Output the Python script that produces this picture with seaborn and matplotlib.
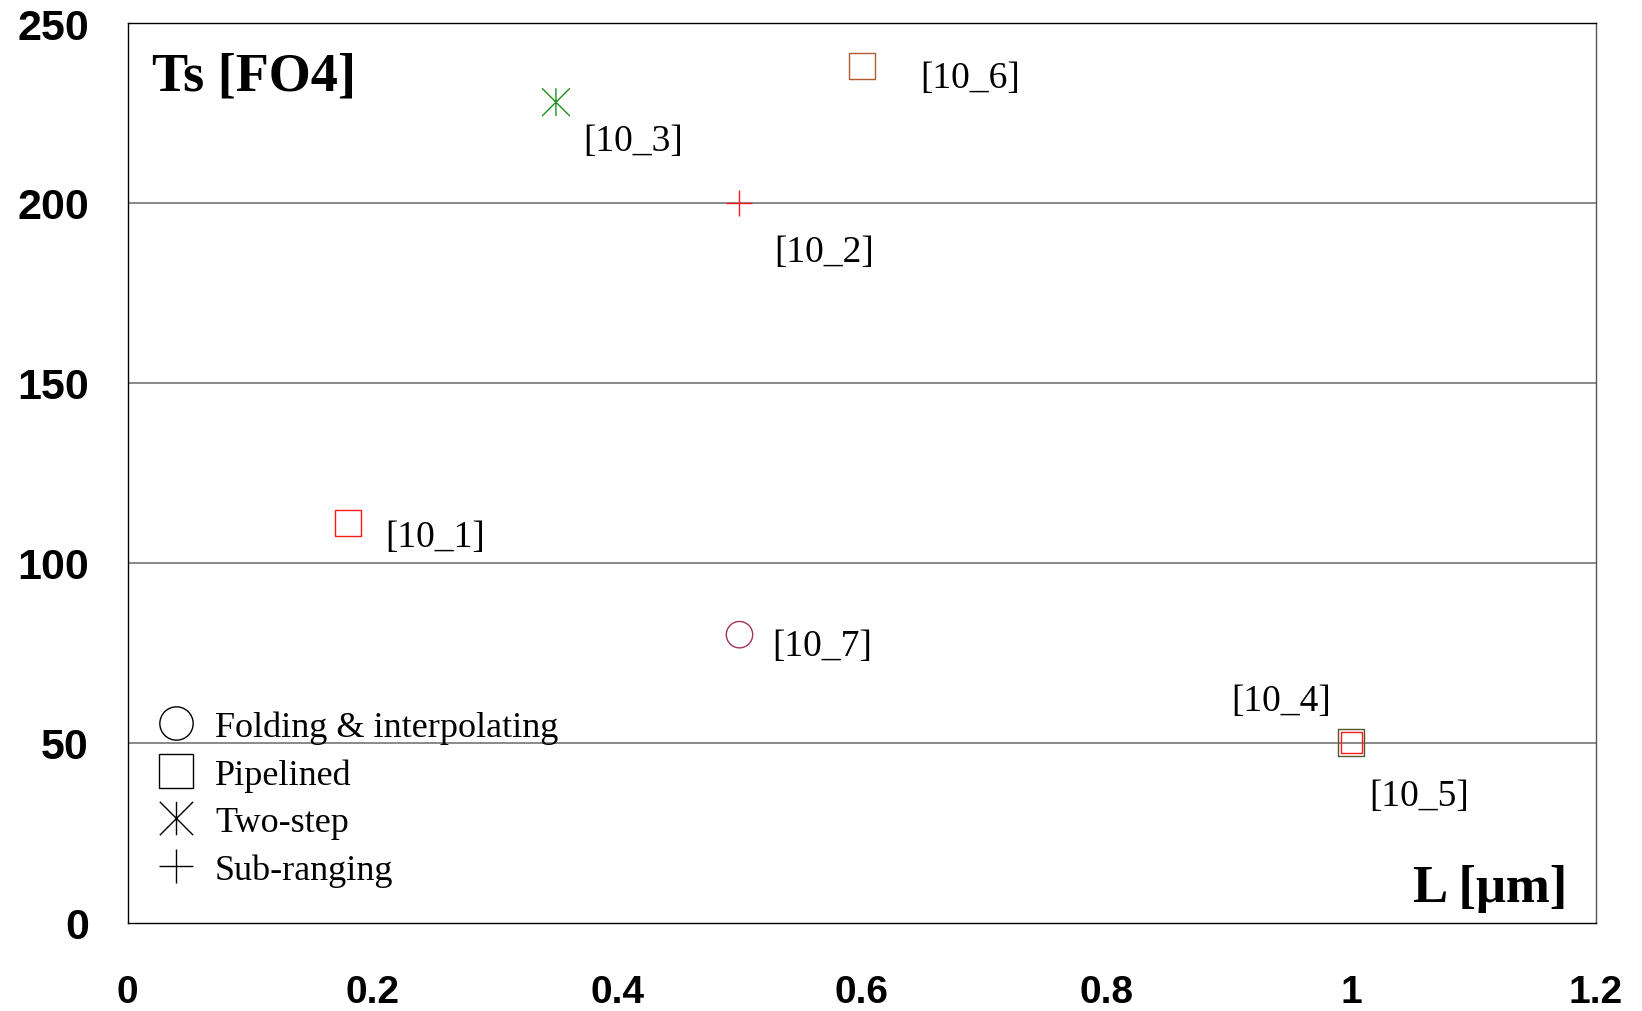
import matplotlib
matplotlib.use("Agg")
import matplotlib.pyplot as plt
from matplotlib.lines import Line2D
from matplotlib.path import Path
import seaborn as sns

# ---- data -------------------------------------------------------------
refs = ["[10_1]", "[10_2]", "[10_3]", "[10_4]", "[10_5]", "[10_6]", "[10_7]"]
length_um = [0.18, 0.5, 0.35, 1.0, 1.0, 0.6, 0.5]
ts_fo4 = [111, 200, 228, 50, 50, 238, 80]
architecture = ["Pipelined", "Sub-ranging", "Two-step", "Pipelined",
                "Pipelined", "Pipelined", "Folding & interpolating"]
point_colors = ["#ff1a1a", "#ff1a1a", "#1f8f1f", "#55552e",
                "#ff1a1a", "#b05a30", "#a3305e"]
point_sizes = [19, 19, 20, 19, 15, 19, 19]            # marker size, pt
label_offsets = [(37, -23), (35, -58), (27, -48), (-120, 33),
                 (18, -62), (58, -21), (33, -20)]     # pixels

x_ticks = [0, 0.2, 0.4, 0.6, 0.8, 1.0, 1.2]
x_tick_labels = ["0", "0.2", "0.4", "0.6", "0.8", "1", "1.2"]
y_ticks = [0, 50, 100, 150, 200, 250]
legend_order = ["Folding & interpolating", "Pipelined", "Two-step", "Sub-ranging"]

# ---- markers ----------------------------------------------------------
asterisk = Path([(-1, -1), (1, 1), (-1, 1), (1, -1), (0, -1), (0, 1)],
                [Path.MOVETO, Path.LINETO] * 3)
marker_map = {"Folding & interpolating": "o", "Pipelined": "s",
              "Two-step": asterisk, "Sub-ranging": "+"}

sns.set_style("white")
plt.rcParams["text.color"] = "black"
plt.rcParams["xtick.color"] = "black"
plt.rcParams["ytick.color"] = "black"
serif = ["Liberation Serif", "DejaVu Serif"]
sans = ["Liberation Sans", "DejaVu Sans"]

fig = plt.figure(figsize=(16.42, 10.12), dpi=100)
ax = fig.add_axes([0.07777, 0.08745, 0.89421, 0.88883])

for L, ts, arch, c, ms in zip(length_um, ts_fo4, architecture,
                              point_colors, point_sizes):
    m = marker_map[arch]
    if m == "+":
        sns.scatterplot(x=[L], y=[ts], marker=m, s=ms ** 2, color=c,
                        linewidth=1.0, ax=ax, zorder=3)
    else:
        sns.scatterplot(x=[L], y=[ts], marker=m, s=ms ** 2, color=c,
                        facecolor="none", edgecolor=c, linewidth=1.0,
                        ax=ax, zorder=3)

for L, ts, ref, (dx, dy) in zip(length_um, ts_fo4, refs, label_offsets):
    ax.annotate(ref, xy=(L, ts), xytext=(dx, dy), textcoords="offset pixels",
                ha="left", va="baseline", fontsize=27, family=serif,
                color="black")

ax.set_xlim(0, 1.2)
ax.set_ylim(0, 250)
ax.set_xticks(x_ticks)
ax.set_xticklabels(x_tick_labels)
ax.set_yticks(y_ticks)
ax.set_xlabel("")
ax.set_ylabel("")

for lab in ax.get_xticklabels():
    lab.set_family(sans)
    lab.set_fontweight("bold")
    lab.set_fontsize(28)
for lab in ax.get_yticklabels():
    lab.set_family(sans)
    lab.set_fontweight("bold")
    lab.set_fontsize(31)

ax.tick_params(axis="both", direction="out", length=10, width=1,
               color="#444444", labelcolor="black")
ax.tick_params(axis="x", pad=27)
ax.tick_params(axis="y", pad=18)

for v in y_ticks[1:-1]:
    ax.axhline(v, color="#808080", linewidth=1.3, zorder=1)

for side, sp in ax.spines.items():
    sp.set_visible(True)
    sp.set_linewidth(1.0)
    sp.set_color("black" if side in ("left", "bottom", "top") else "#555555")

ax.text(0.0166, 0.9266, "Ts [FO4]", transform=ax.transAxes, ha="left",
        va="baseline", fontsize=39, fontweight="bold", family=serif,
        color="black")
ax.text(0.9803, 0.0239, "L [\u03bcm]", transform=ax.transAxes, ha="right",
        va="baseline", fontsize=38, fontweight="bold", family=serif,
        color="black")

handles = [Line2D([], [], linestyle="none", marker=marker_map[a],
                  markersize=24, markerfacecolor="none",
                  markeredgecolor="black", color="black",
                  markeredgewidth=1.0, label=a) for a in legend_order]
leg = ax.legend(handles=handles, loc="lower left",
                bbox_to_anchor=(0.0204, 0.040), frameon=False,
                borderpad=0, borderaxespad=0, handlelength=1.0,
                handletextpad=0.59, labelspacing=0.39,
                prop={"family": serif, "size": 26})
for t in leg.get_texts():
    t.set_color("black")

fig.savefig("out.png", dpi=100)
